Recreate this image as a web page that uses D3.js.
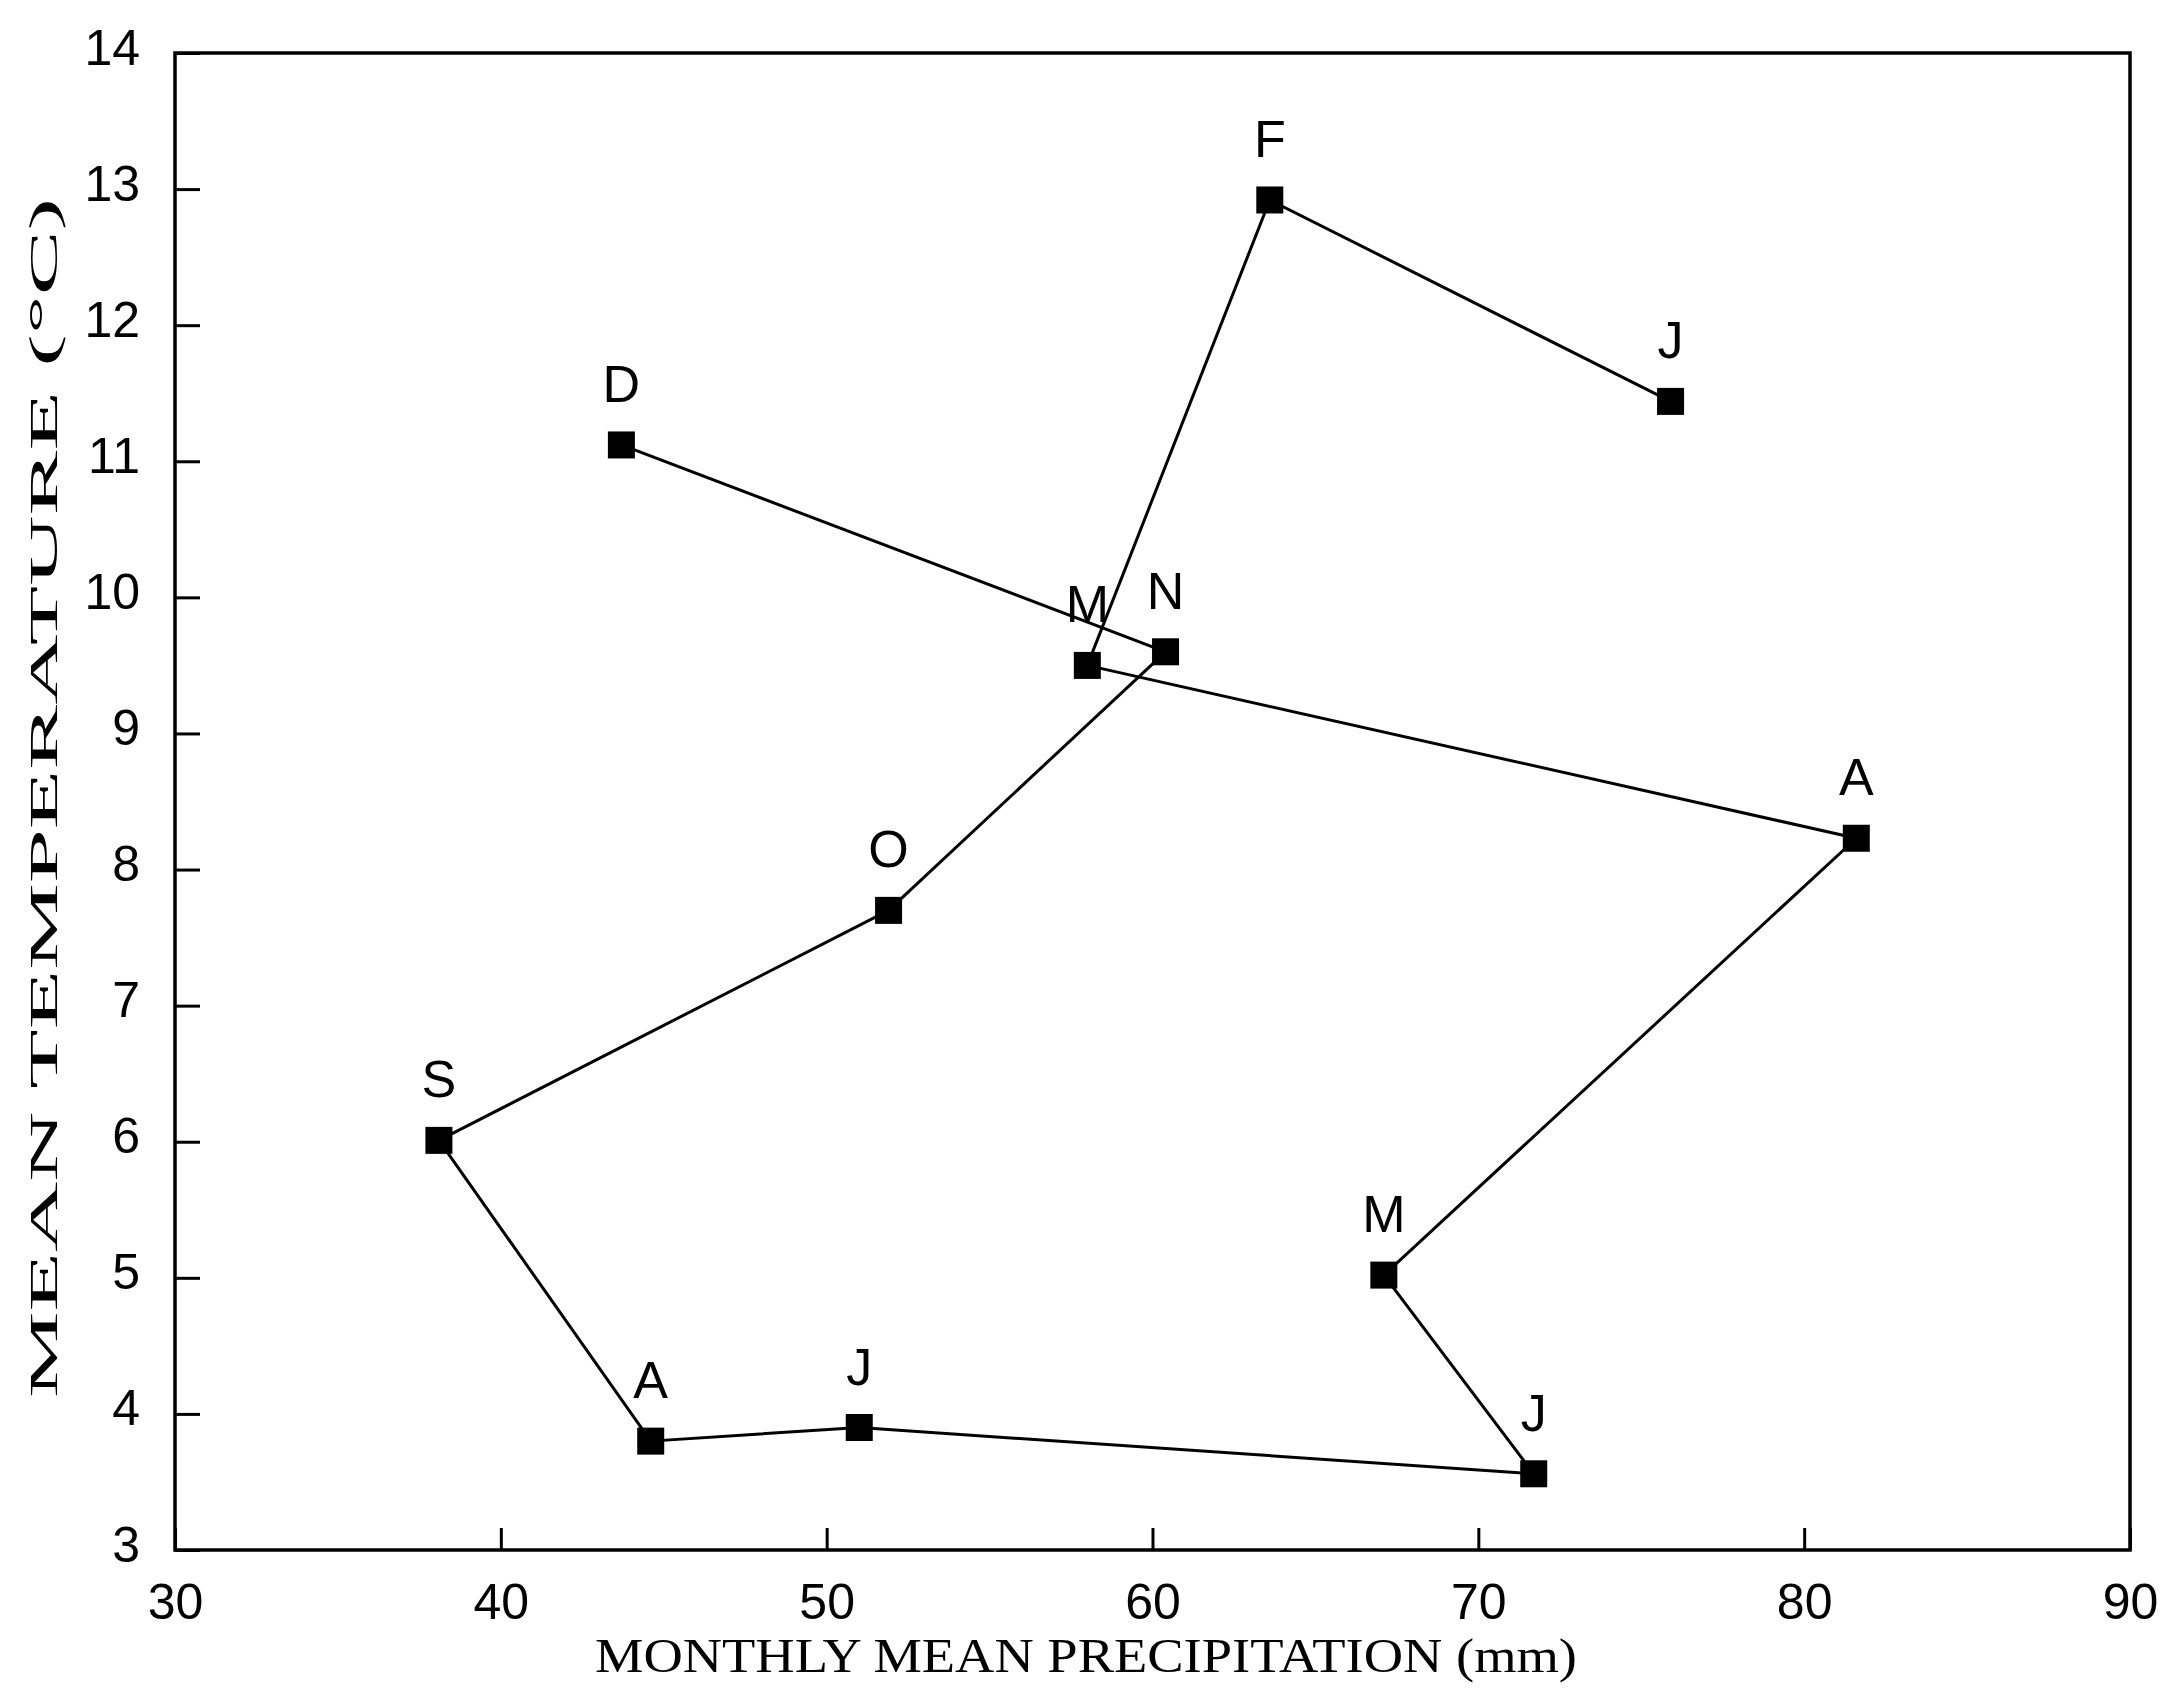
<!DOCTYPE html>
<html>
<head>
<meta charset="utf-8">
<script src="https://cdn.jsdelivr.net/npm/d3@7"></script>
<style>
  html, body { margin: 0; padding: 0; background: #fff; }
  svg { display: block; }
</style>
</head>
<body>
<svg id="chart" width="2169" height="1694"></svg>
<script>
// Monthly climate loop: mean precipitation (mm) vs mean temperature (°C), January → December
const months = ["J", "F", "M", "A", "M", "J", "J", "A", "S", "O", "N", "D"];
const precipitation = [75.9, 63.6, 58.0, 81.6, 67.1, 71.7, 51.0, 44.6, 38.1, 51.9, 60.4, 43.7];
const temperature = [11.44, 12.92, 9.50, 8.23, 5.02, 3.56, 3.90, 3.80, 6.01, 7.70, 9.60, 11.12];

const xTickValues = [30, 40, 50, 60, 70, 80, 90];
const yTickValues = [3, 4, 5, 6, 7, 8, 9, 10, 11, 12, 13, 14];

const xTitle = "MONTHLY MEAN PRECIPITATION (mm)";
const yTitle = "MEAN TEMPERATURE (°C)";

const svg = d3.select("#chart");
const W = 2169, H = 1694;
const plot = { left: 175, right: 2130, top: 53, bottom: 1550 };

svg.append("rect").attr("width", W).attr("height", H).attr("fill", "#fff");

const x = d3.scaleLinear().domain([30, 90]).range([plot.left, plot.right]);
const y = d3.scaleLinear().domain([3, 14]).range([plot.bottom, plot.top]);

const sans = "'Liberation Sans', Arial, Helvetica, sans-serif";
const serif = "'Liberation Serif', 'Times New Roman', serif";

// Y axis: inward ticks, labels on the left
const yAxis = svg.append("g")
  .attr("transform", `translate(${plot.left},0)`)
  .call(d3.axisLeft(y).tickValues(yTickValues).tickFormat(d3.format("d"))
    .tickSizeInner(-25).tickSizeOuter(0).tickPadding(35));
yAxis.select(".domain").remove();
yAxis.selectAll(".tick line").attr("stroke", "#000").attr("stroke-width", 3);
yAxis.selectAll(".tick text")
  .attr("fill", "#000")
  .attr("font-family", sans)
  .attr("font-size", 50)
  .attr("dy", "11px");

// X axis: inward ticks, labels below
const xAxis = svg.append("g")
  .attr("transform", `translate(0,${plot.bottom})`)
  .call(d3.axisBottom(x).tickValues(xTickValues).tickFormat(d3.format("d"))
    .tickSizeInner(-22).tickSizeOuter(0));
xAxis.select(".domain").remove();
xAxis.selectAll(".tick line").attr("stroke", "#000").attr("stroke-width", 3);
xAxis.selectAll(".tick text")
  .attr("fill", "#000")
  .attr("font-family", sans)
  .attr("font-size", 50)
  .attr("y", 69)
  .attr("dy", 0);

// Plot frame
svg.append("rect")
  .attr("x", plot.left).attr("y", plot.top)
  .attr("width", plot.right - plot.left).attr("height", plot.bottom - plot.top)
  .attr("fill", "none").attr("stroke", "#000").attr("stroke-width", 3.5);

// Monthly path
const points = months.map((m, i) => ({ m, p: precipitation[i], t: temperature[i] }));
const line = d3.line().x(d => x(d.p)).y(d => y(d.t));
svg.append("path")
  .datum(points)
  .attr("d", line)
  .attr("fill", "none")
  .attr("stroke", "#000")
  .attr("stroke-width", 3)
  .attr("stroke-linejoin", "round");

// Square markers
const size = 27;
svg.append("g").selectAll("rect")
  .data(points).join("rect")
  .attr("x", d => x(d.p) - size / 2)
  .attr("y", d => y(d.t) - size / 2)
  .attr("width", size).attr("height", size)
  .attr("fill", "#000");

// Month initials above markers
svg.append("g").selectAll("text")
  .data(points).join("text")
  .attr("x", d => x(d.p))
  .attr("y", d => y(d.t) - 43)
  .attr("text-anchor", "middle")
  .attr("font-family", sans)
  .attr("font-size", 52)
  .attr("fill", "#000")
  .text(d => d.m);

// Axis titles
svg.append("text")
  .attr("x", 1086).attr("y", 1672)
  .attr("text-anchor", "middle")
  .attr("font-family", serif)
  .attr("font-size", 48)
  .attr("textLength", 982)
  .attr("lengthAdjust", "spacingAndGlyphs")
  .attr("fill", "#000")
  .text(xTitle);

svg.append("text")
  .attr("transform", "translate(57,798) rotate(-90)")
  .attr("text-anchor", "middle")
  .attr("font-family", serif)
  .attr("font-size", 40)
  .attr("textLength", 1200)
  .attr("lengthAdjust", "spacingAndGlyphs")
  .attr("fill", "#000")
  .text(yTitle);
</script>
</body>
</html>
